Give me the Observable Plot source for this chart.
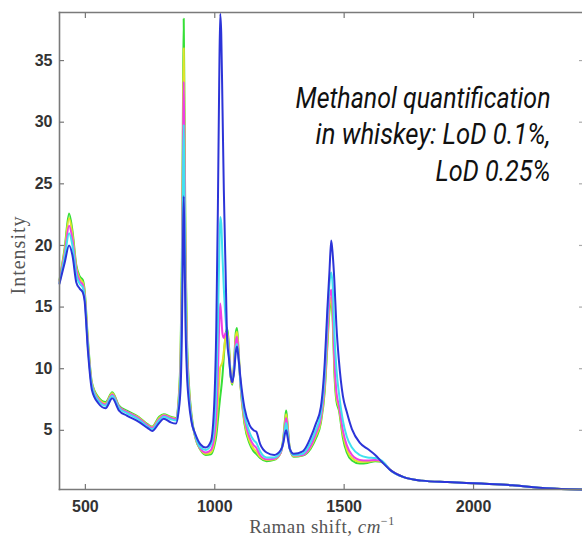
<!DOCTYPE html>
<html><head><meta charset="utf-8">
<script src="https://cdn.jsdelivr.net/npm/d3@7"></script>
<script src="https://cdn.jsdelivr.net/npm/@observablehq/plot@0.6"></script>
<style>body{margin:0;background:#fff} #chart svg{display:block}</style>
</head><body><div id="chart"></div>
<script>
const ramanShift = [
  400,420,437,450,465,478,490,497,510,525,
  550,578,604,630,660,705,740,758,785,803,
  830,850,860,868,873,877,880,883,887,892,
  900,910,925,945,965,985,998,1006,1012,1017,
  1021,1025,1030,1035,1042,1048,1055,1062,1068,1075,
  1081,1086,1092,1100,1115,1135,1150,1160,1175,1200,
  1230,1255,1265,1272,1276,1281,1290,1305,1340,1370,
  1390,1410,1425,1435,1443,1450,1456,1462,1470,1480,
  1495,1510,1530,1560,1590,1620,1645,1680,1730,1800,
  1900,2030,2150,2280,2420];
const green = [
  17.2,19.8,22.6,21.2,18.4,17.5,17.2,16.4,12.3,8.9,
  7.7,7.3,8.1,7.0,6.6,6.1,5.5,5.3,6.1,6.3,
  6.1,6.0,7.5,11.5,19.0,31.0,38.4,31.0,20.0,13.0,
  8.8,6.3,4.4,3.4,3.0,3.05,3.7,4.6,5.8,6.9,
  7.7,8.4,9.5,11.0,12.8,13.3,11.8,9.3,8.7,10.6,
  12.9,13.3,11.5,8.5,5.5,3.9,3.3,3.1,2.75,2.5,
  2.6,3.2,4.4,6.0,6.6,5.6,3.5,2.85,2.95,3.5,
  4.3,5.6,8.2,11.8,14.6,15.4,13.8,9.8,7.4,6.6,
  4.4,3.2,2.55,2.3,2.35,2.5,2.45,1.75,1.2,0.92,
  0.8,0.68,0.55,0.3,0.2];
const yellow = [
  17.1,19.6,22.2,20.9,18.2,17.3,17.0,16.2,12.1,8.8,
  7.6,7.2,8.0,6.9,6.5,6.05,5.45,5.25,6.0,6.25,
  6.05,5.95,7.3,11.0,18.0,29.0,36.0,29.0,19.0,12.4,
  8.5,6.1,4.4,3.45,3.1,3.2,4.0,5.3,7.2,9.0,
  10.1,10.3,10.6,11.4,12.6,13.0,11.6,9.3,8.8,10.5,
  12.6,13.0,11.3,8.5,5.7,4.1,3.5,3.3,2.85,2.6,
  2.65,3.2,4.3,5.8,6.3,5.4,3.5,2.9,3.0,3.6,
  4.5,5.8,8.5,12.2,15.0,15.8,14.2,10.3,7.7,6.8,
  4.7,3.5,2.75,2.45,2.45,2.55,2.45,1.75,1.2,0.92,
  0.8,0.68,0.55,0.3,0.2];
const magenta = [
  17.1,19.3,21.6,20.5,18.0,17.1,16.8,16.0,11.9,8.7,
  7.5,7.1,7.9,6.9,6.5,6.0,5.4,5.2,5.9,6.2,
  6.0,5.9,7.1,10.3,16.8,27.0,33.3,27.0,17.5,11.8,
  8.2,6.0,4.5,3.5,3.2,3.4,4.5,6.2,9.5,13.5,
  15.3,14.3,12.8,12.5,12.9,12.7,11.3,9.3,8.9,10.3,
  12.2,12.6,11.1,8.6,6.0,4.4,3.8,3.6,3.0,2.65,
  2.7,3.2,4.2,5.5,6.0,5.2,3.5,2.95,3.0,3.7,
  4.7,6.0,8.9,12.8,15.6,16.4,14.8,11.0,8.1,7.0,
  5.0,3.8,3.0,2.6,2.55,2.6,2.5,1.75,1.2,0.92,
  0.8,0.68,0.55,0.3,0.2];
const cyan = [
  17.0,19.0,21.0,20.0,17.6,16.9,16.6,15.8,11.7,8.6,
  7.4,7.0,7.8,6.8,6.4,5.9,5.3,5.1,5.8,6.1,
  5.9,5.8,6.9,9.6,15.5,24.0,29.8,24.0,16.0,11.0,
  7.9,5.9,4.55,3.6,3.4,3.8,5.4,8.5,13.5,19.0,
  22.3,21.8,19.0,16.5,14.0,12.6,11.0,9.3,9.0,10.0,
  11.7,12.0,10.8,8.7,6.3,4.8,4.2,4.0,3.3,2.8,
  2.8,3.3,4.1,5.2,5.6,4.9,3.5,3.0,3.1,4.0,
  5.0,6.4,9.6,14.0,16.8,17.8,16.6,13.0,10.0,8.0,
  5.8,4.5,3.6,3.0,2.8,2.75,2.55,1.75,1.2,0.92,
  0.8,0.68,0.55,0.3,0.2];
const blue = [
  16.9,18.6,20.0,19.2,17.0,16.5,16.2,15.5,11.4,8.3,
  7.2,6.8,7.6,6.6,6.2,5.7,5.2,4.95,5.6,5.95,
  5.65,5.55,6.5,8.5,13.0,20.0,24.0,20.0,13.5,9.8,
  7.3,5.7,4.7,3.85,3.6,4.1,7.2,13.5,23.0,33.0,
  38.8,37.2,31.0,24.5,17.8,12.3,10.8,9.4,8.9,9.8,
  11.3,11.8,10.8,9.1,6.8,5.4,5.0,4.9,3.9,3.2,
  3.0,3.4,4.0,4.8,5.0,4.5,3.5,3.1,3.3,4.4,
  5.5,6.9,10.5,14.8,17.8,20.4,19.2,17.2,13.5,10.6,
  7.8,6.5,5.1,4.0,3.5,3.0,2.45,1.75,1.2,0.92,
  0.8,0.68,0.55,0.3,0.2];
const seriesNames = ["green","yellow","magenta","cyan","blue"];
const seriesColors = ["#36df36","#e2e22c","#ef3fe4","#40e2ef","#2c34d8"];
const xTicks = [500,1000,1500,2000];
const yTicks = [5,10,15,20,25,30,35];
const annotationLines = ["Methanol quantification","in whiskey: LoD 0.1%,","LoD 0.25%"];
const yLabel = "Intensity";
const xLabelParts = ["Raman shift, ","cm","−1"];

const series = [green, yellow, magenta, cyan, blue];
const rows = series.map((vals, k) => ramanShift.map((x, i) => ({x, y: vals[i], s: seriesNames[k]})));

const tickStyle = {stroke: "#777", strokeWidth: 1.2, text: null, label: null};
const labelStyle = {tickSize: 0, fontSize: 16, fontWeight: "bold", fill: "#333", label: null, tickFormat: d3.format("d")};

const plot = Plot.plot({
  width: 582, height: 540,
  marginLeft: 59, marginRight: 0, marginTop: 12, marginBottom: 51,
  x: {domain: [400, 2421]},
  y: {domain: [0.2, 38.9]},
  style: {fontFamily: "'Liberation Sans', Arial, sans-serif", background: "#fff"},
  marks: [
    ...rows.map((r, k) => Plot.line(r, {x: "x", y: "y", stroke: seriesColors[k], strokeWidth: 2, curve: "monotone-x"})),
    Plot.frame({anchor: "left", stroke: "#7a7a7a", strokeWidth: 1.6}),
    Plot.frame({anchor: "top", stroke: "#7a7a7a", strokeWidth: 1.6}),
    Plot.frame({anchor: "bottom", stroke: "#7a7a7a", strokeWidth: 1.6}),
    Plot.axisX(xTicks, {anchor: "bottom", tickSize: 5, dy: -5, ...tickStyle}),
    Plot.axisX(xTicks, {anchor: "top", tickSize: 5, dy: 5, ...tickStyle}),
    Plot.axisY(yTicks, {anchor: "left", tickSize: 5, dx: 5, ...tickStyle}),
    Plot.axisY(yTicks, {anchor: "right", tickSize: 4, dx: -4, ...tickStyle, stroke: "#aaa"}),
    Plot.axisX(xTicks, {anchor: "bottom", tickPadding: 11, ...labelStyle}),
    Plot.axisY(yTicks, {anchor: "left", tickPadding: 7, ...labelStyle}),
    ...annotationLines.map((t, i) => Plot.text([t], {
      text: d => d, frameAnchor: "top-right", dx: -32, dy: 95 + i * 36.5,
      textAnchor: "end", lineAnchor: "bottom", fontSize: 30, fontStyle: "italic",
      fontWeight: 400, fontFamily: "Roboto, 'Open Sans', sans-serif", fill: "#111",
      className: "anno" + i
    }))
  ]
});

document.getElementById("chart").appendChild(plot);

// condense annotation lines horizontally to the reference widths (right edge kept fixed)
const annoWidths = [255, 235, 115];
annoWidths.forEach((w, i) => {
  plot.querySelectorAll(".anno" + i + " text").forEach(el => {
    const bb = el.getBBox();
    const right = bb.x + bb.width;
    const k = w / bb.width;
    const prev = el.getAttribute("transform") || "";
    el.setAttribute("transform", `${prev} translate(${right},0) scale(${k},1) translate(${-right},0)`);
  });
});

const svg = d3.select(plot);
const xl = svg.append("text")
  .attr("x", 322).attr("y", 533).attr("text-anchor", "middle")
  .attr("font-family", "'Liberation Serif', 'Times New Roman', serif")
  .attr("font-size", 19).attr("fill", "#555").attr("letter-spacing", 0.5);
xl.append("tspan").text(xLabelParts[0]);
xl.append("tspan").attr("font-style", "italic").text(xLabelParts[1]);
xl.append("tspan").attr("font-size", 12).attr("dy", -8).text(xLabelParts[2]);

svg.append("text")
  .attr("transform", "translate(25,255) rotate(-90)")
  .attr("text-anchor", "middle")
  .attr("font-family", "'Liberation Serif', 'Times New Roman', serif")
  .attr("font-size", 20).attr("fill", "#555").attr("letter-spacing", 1)
  .text(yLabel);
</script>
</body></html>
